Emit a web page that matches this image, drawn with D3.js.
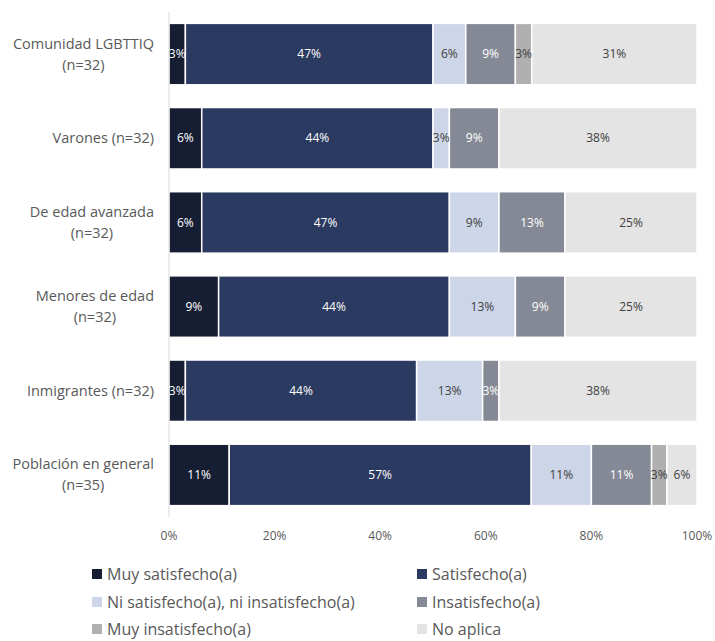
<!DOCTYPE html>
<html>
<head>
<meta charset="utf-8">
<script src="https://cdn.jsdelivr.net/npm/d3@7"></script>
<style>
  body { margin: 0; background: #fff; }
  text { font-family: "Open Sans", sans-serif; }
</style>
</head>
<body>
<svg id="chart" width="715" height="641"></svg>
<script>
const width = 715;
const height = 641;

// categories (top to bottom), each label split in lines
const categories = [
    ["Comunidad LGBTTIQ", "(n=32)"],
    ["Varones (n=32)"],
    ["De edad avanzada", "(n=32)"],
    ["Menores de edad", "(n=32)"],
    ["Inmigrantes (n=32)"],
    ["Población en general", "(n=35)"]
];

const seriesNames = [
    "Muy satisfecho(a)",
    "Satisfecho(a)",
    "Ni satisfecho(a), ni insatisfecho(a)",
    "Insatisfecho(a)",
    "Muy insatisfecho(a)",
    "No aplica"
];

// percentages per series, in category order
const muySatisfecho = [3.1, 6.2, 6.2, 9.4, 3.1, 11.4];
const satisfecho    = [46.9, 43.8, 46.9, 43.7, 43.8, 57.2];
const niNi          = [6.2, 3.1, 9.4, 12.5, 12.5, 11.4];
const insatisfecho  = [9.4, 9.4, 12.5, 9.4, 3.1, 11.4];
const muyInsat      = [3.1, 0, 0, 0, 0, 2.9];
const noAplica      = [31.3, 37.5, 25, 25, 37.5, 5.7];

const tickValues = [0, 20, 40, 60, 80, 100];

const colors = ["#161e33", "#2b3a60", "#cdd5e8", "#858995", "#b0b0b0", "#e4e4e4"];
const labelColors = ["#ffffff", "#ffffff", "#404040", "#ffffff", "#404040", "#404040"];

const seriesValues = [muySatisfecho, satisfecho, niNi, insatisfecho, muyInsat, noAplica];

const rows = categories.map((c, i) => {
    const r = { idx: i };
    seriesNames.forEach((s, j) => r[s] = seriesValues[j][i]);
    return r;
});

const stacked = d3.stack().keys(seriesNames)(rows);

const svg = d3.select("#chart");

const x = d3.scaleLinear().domain([0, 100]).range([169, 697]);
const y = d3.scaleBand()
    .domain(d3.range(categories.length))
    .range([12, 517])
    .paddingInner(0.27)
    .paddingOuter(0.135);

// bars
const layers = svg.append("g").selectAll("g")
    .data(stacked)
    .enter().append("g")
    .attr("fill", (d, i) => colors[i]);

layers.selectAll("rect")
    .data(d => d)
    .enter().append("rect")
    .attr("x", d => x(d[0]))
    .attr("y", (d, i) => y(i))
    .attr("width", d => Math.max(0, x(d[1]) - x(d[0])))
    .attr("height", y.bandwidth())
    .attr("stroke", "#fff")
    .attr("stroke-width", 1.5);

// value labels
stacked.forEach((layer, j) => {
    svg.append("g").selectAll("text")
        .data(layer.filter(d => d.data[layer.key] > 0))
        .enter().append("text")
        .attr("x", d => (x(d[0]) + x(d[1])) / 2)
        .attr("y", d => y(d.data.idx) + y.bandwidth() / 2)
        .attr("dy", "0.35em")
        .attr("text-anchor", "middle")
        .attr("font-size", "12px")
        .attr("fill", labelColors[j])
        .text(d => Math.round(d.data[layer.key]) + "%");
});

// y axis line
svg.append("line")
    .attr("x1", 169).attr("x2", 169)
    .attr("y1", 12).attr("y2", 517)
    .attr("stroke", "#d9d9d9")
    .attr("stroke-width", 1);

// category labels
const catG = svg.append("g");
categories.forEach((lines, i) => {
    const cy = y(i) + y.bandwidth() / 2;
    const t = catG.append("text")
        .attr("font-size", "14.5px")
        .attr("fill", "#595959")
        .attr("text-anchor", "middle");
    lines.forEach((line, k) => {
        t.append("tspan")
            .attr("x", 0)
            .attr("y", cy + (k - (lines.length - 1) / 2) * 21)
            .attr("dy", "0.35em")
            .text(line);
    });
    // right-align the block at x = 154, lines centered within it
    const w = t.node().getBBox().width;
    t.selectAll("tspan").attr("x", 154 - w / 2);
});

// x axis tick labels
svg.append("g").selectAll("text")
    .data(tickValues)
    .enter().append("text")
    .attr("x", d => x(d))
    .attr("y", 536)
    .attr("dy", "0.35em")
    .attr("text-anchor", "middle")
    .attr("font-size", "12px")
    .attr("fill", "#595959")
    .text(d => d + "%");

// legend
const legendPos = [
    [92, 574], [417, 574],
    [92, 602], [417, 602],
    [92, 629], [417, 629]
];
const legend = svg.append("g").selectAll("g")
    .data(seriesNames)
    .enter().append("g")
    .attr("transform", (d, i) => `translate(${legendPos[i][0]},${legendPos[i][1]})`);

legend.append("rect")
    .attr("x", 0).attr("y", -5)
    .attr("width", 10).attr("height", 10)
    .attr("fill", (d, i) => colors[i]);

legend.append("text")
    .attr("x", 15)
    .attr("dy", "0.35em")
    .attr("font-size", "16px")
    .attr("fill", "#595959")
    .text(d => d);
</script>
</body>
</html>
